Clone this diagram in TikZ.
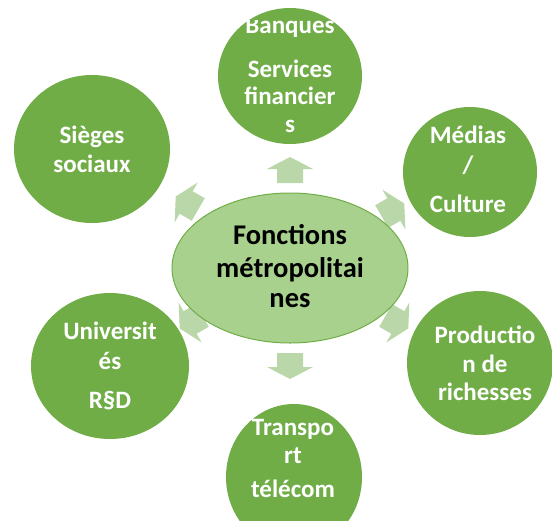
\documentclass[tikz,border=0pt]{standalone}
\usepackage{fontspec}
\setmainfont{Carlito}
\usetikzlibrary{shapes.geometric}
\definecolor{cgreen}{HTML}{70AD47}
\definecolor{lgreen}{HTML}{A9D18E}
\definecolor{agreen}{HTML}{B9D7A8}
\begin{document}
\begin{tikzpicture}[x=1pt,y=-1pt,
  bub/.style={ellipse, fill=cgreen, draw=none, inner sep=0pt},
  wtxt/.style={text=white, font=\fontsize{25}{30}\selectfont\bfseries, anchor=base, inner sep=0pt},
  btxt/.style={text=black, font=\fontsize{28.5}{32}\selectfont\bfseries, anchor=base, inner sep=0pt},
  barrow/.pic={\fill[agreen] (0,-13) -- (23,-1) -- (13,-1) -- (13,13) -- (-13,13) -- (-13,-1) -- (-23,-1) -- cycle;}]
\clip (0,0) rectangle (552,520);
% block arrows
\pic at (290,170) {barrow};
\pic[rotate=60] at (187,203) {barrow};
\pic[rotate=-60] at (393,210) {barrow};
\pic[rotate=-120] at (397,322) {barrow};
\pic[rotate=180] at (290,366) {barrow};
\pic[rotate=120] at (191,322) {barrow};
% centre
\node[ellipse, fill=lgreen, draw=cgreen, line width=1pt, minimum width=236pt, minimum height=150pt, inner sep=0pt] (hub) at (290,268) {};
% outer circles
\node[bub, minimum width=156pt, minimum height=148pt] (sieges) at (92,149) {};
\node[bub, minimum width=158pt, minimum height=146pt] (univ) at (110,366) {};
\node[bub, minimum width=144pt, minimum height=136pt] (banques) at (290,76) {};
\node[bub, minimum width=134pt, minimum height=130pt] (medias) at (470,172) {};
\node[bub, minimum width=146pt, minimum height=144pt] (prod) at (480,363) {};
\node[bub, minimum width=136pt, minimum height=146pt] (transp) at (294,477) {};
% texts
\node[btxt] (h1) at (290,244) {Fonctions};
\node[btxt] (h2) at (290,277) {métropolitai};
\node[btxt] (h3) at (290,307) {nes};
\node[wtxt] (s1) at (92,143) {Sièges};
\node[wtxt] (s2) at (92,172) {sociaux};
\node[wtxt] (m1) at (468,143) {Médias};
\node[wtxt] (m2) at (468,173) {/};
\node[wtxt] (m3) at (468,212) {Culture};
\node[wtxt] (p1) at (485,343) {Productio};
\node[wtxt] (p2) at (485,372) {n de};
\node[wtxt] (p3) at (485,400) {richesses};
\node[wtxt] (t1) at (293,435) {Transpo};
\node[wtxt] (t2) at (293,463) {rt};
\node[wtxt] (t3) at (293,497) {télécom};
\node[wtxt] (u1) at (110,339) {Universit};
\node[wtxt] (u2) at (110,369) {és};
\node[wtxt] (u3) at (110,408) {R§D};
\begin{scope}
\clip (0,20) rectangle (552,60);
\node[wtxt] (b1) at (290,33) {Banques};
\end{scope}
\node[wtxt] (b2) at (290,77) {Services};
\node[wtxt] (b3) at (290,104) {financier};
\node[wtxt] (b4) at (290,132) {s};
\end{tikzpicture}
\end{document}
